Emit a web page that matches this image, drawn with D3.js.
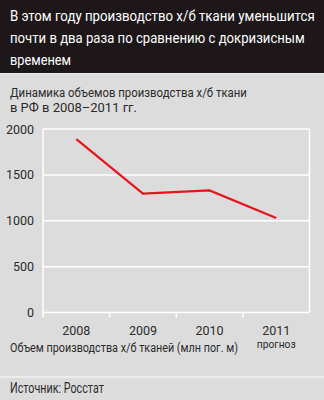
<!DOCTYPE html>
<html>
<head>
<meta charset="utf-8">
<script src="https://cdn.jsdelivr.net/npm/d3@7"></script>
<style>
  html, body { margin: 0; padding: 0; background: #dcdcdc; }
  svg { display: block; }
  text { font-family: Roboto, "Liberation Sans", sans-serif; }
</style>
</head>
<body>
<svg id="chart" width="324" height="400"></svg>
<script>
// Production of cotton fabric in Russia, mln linear metres
const years = ["2008", "2009", "2010", "2011"];
const volumes = [1890, 1295, 1330, 1030];
const yTicks = [0, 500, 1000, 1500, 2000];
const yearNotes = ["", "", "", "прогноз"];
const titleLines = [
  "В этом году производство х/б ткани уменьшится",
  "почти в два раза по сравнению с докризисным",
  "временем"
];
const subtitleLines = [
  "Динамика объемов производства х/б ткани",
  "в РФ в 2008–2011 гг."
];
const axisCaption = "Объем производства х/б тканей (млн пог. м)";
const sourceText = "Источник: Росстат";

const W = 324, H = 400;
const ink = "#2b2b2b";
const svg = d3.select("#chart");

// condensed lettering: place each text at (px, py) and squeeze it horizontally to a set width
function condensed(parent, items, px, py, widths) {
  const sel = parent.selectAll(null).data(items).join("text").text(d => d);
  sel.each(function (d, i) {
    const node = this;
    const k = widths[i] / node.getComputedTextLength();
    d3.select(node).attr("transform", `translate(${px(d, i)},${py(d, i)}) scale(${k},1)`);
  });
  return sel;
}

svg.append("rect").attr("width", W).attr("height", H).attr("fill", "#dcdcdc");

// header block
svg.append("rect").attr("x", 0).attr("y", 0).attr("width", W).attr("height", 73).attr("fill", "#1d1719");
svg.append("line").attr("x1", 0).attr("x2", W).attr("y1", 73.5).attr("y2", 73.5)
  .attr("stroke", "#eeeeee").attr("stroke-width", 1);

const titleG = svg.append("g").attr("fill", "#ffffff").attr("font-size", 15);
condensed(titleG, titleLines, () => 10, (d, i) => 21 + i * 22, [305, 295, 61]);

const subG = svg.append("g").attr("fill", ink).attr("font-size", 12.8);
condensed(subG, subtitleLines, () => 10, (d, i) => 96.8 + i * 15, [237, 127]);

// plot area
const plotL = 43, plotR = 309.5, plotT = 129, plotB = 312.5;
const x = d3.scaleBand().domain(years).range([plotL, plotR]);
const y = d3.scaleLinear().domain([0, 2000]).range([plotB, plotT]);

const grid = svg.append("g").attr("stroke", "#ffffff").attr("stroke-width", 1.5);
grid.selectAll("line.h").data(yTicks).join("line")
  .attr("x1", plotL).attr("x2", plotR)
  .attr("y1", d => y(d)).attr("y2", d => y(d));
// frame sides
grid.append("line").attr("x1", plotL).attr("x2", plotL).attr("y1", plotT).attr("y2", plotB + 5);
grid.append("line").attr("x1", plotR).attr("x2", plotR).attr("y1", plotT).attr("y2", plotB);
// ticks between years
grid.selectAll("line.t").data(years.slice(1)).join("line")
  .attr("x1", d => x(d)).attr("x2", d => x(d))
  .attr("y1", plotB).attr("y2", plotB + 5);

// y tick labels
svg.append("g").selectAll("text").data(yTicks).join("text")
  .attr("x", 34).attr("y", d => y(d)).attr("dy", "0.36em")
  .attr("text-anchor", "end").attr("fill", ink).attr("font-size", 12.5)
  .text(d => d);

// production line
const line = d3.line()
  .x((d, i) => x(years[i]) + x.bandwidth() / 2)
  .y(d => y(d));
svg.append("path").datum(volumes)
  .attr("d", line).attr("fill", "none")
  .attr("stroke", "#e8141c").attr("stroke-width", 2.2)
  .attr("stroke-linejoin", "miter");

// x labels
svg.append("g").selectAll("text").data(years).join("text")
  .attr("x", d => x(d) + x.bandwidth() / 2).attr("y", 334.5)
  .attr("text-anchor", "middle").attr("fill", ink).attr("font-size", 12.5)
  .text(d => d);

const noteG = svg.append("g").attr("fill", ink).attr("font-size", 11).attr("text-anchor", "middle");
const notes = yearNotes.map((d, i) => ({ text: d, year: years[i] })).filter(d => d.text);
noteG.selectAll(null).data(notes).join("text")
  .text(d => d.text)
  .each(function (d) {
    const k = 39 / this.getComputedTextLength();
    d3.select(this).attr("transform",
      `translate(${x(d.year) + x.bandwidth() / 2},348) scale(${k},1)`);
  });

const capG = svg.append("g").attr("fill", ink).attr("font-size", 13.5);
condensed(capG, [axisCaption], () => 10, () => 351.5, [228]);

// footer
svg.append("line").attr("x1", 0).attr("x2", W).attr("y1", 377).attr("y2", 377)
  .attr("stroke", "#f2f2f2").attr("stroke-width", 1.5);
const srcG = svg.append("g").attr("fill", ink).attr("font-size", 14);
condensed(srcG, [sourceText], () => 10, () => 393.3, [94]);
</script>
</body>
</html>
